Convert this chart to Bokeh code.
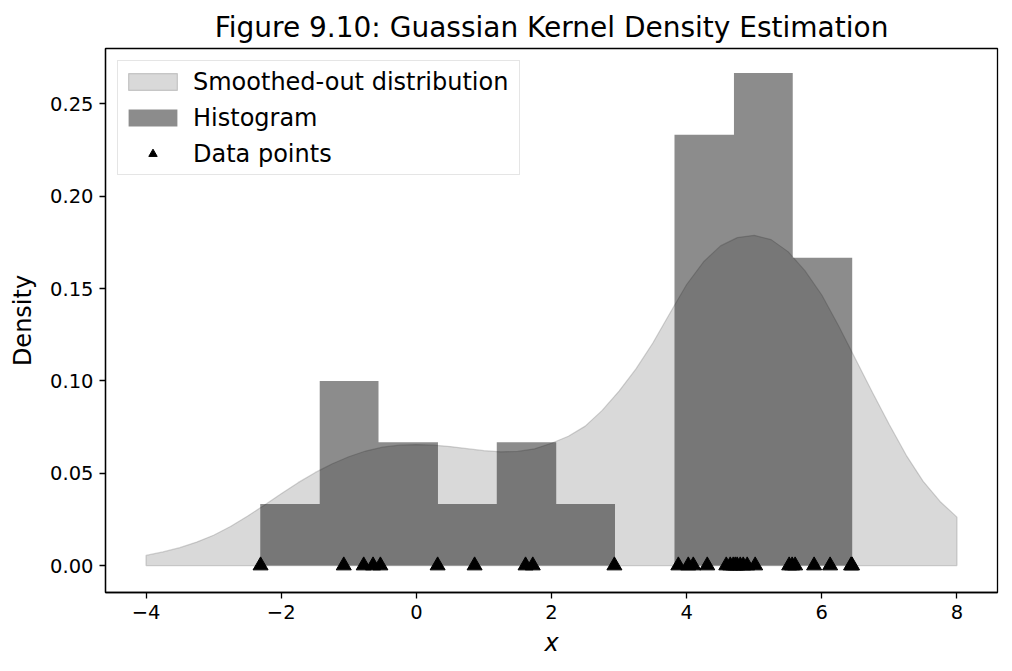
from bokeh.plotting import figure
from bokeh.models import Range1d, FixedTicker, PrintfTickFormatter, Legend, LegendItem
from bokeh.embed import file_html
from bokeh.resources import INLINE

# Data points
data_points = [-2.305, -1.074, -0.779, -0.641, -0.532, 0.315, 0.862, 1.616, 1.723, 2.931,
               3.877, 4.024, 4.098, 4.305, 4.586, 4.645, 4.689,
               4.719, 4.748, 4.793, 4.837, 4.896, 5.014, 5.517, 5.561,
               5.605, 5.886, 6.123, 6.433, 6.448]

# Histogram bin edges and heights
hist_edges = [-2.31, -1.43, -0.56, 0.32, 1.19, 2.07, 2.94, 3.82, 4.70, 5.57, 6.45]
hist_heights = [0.0333, 0.1, 0.0667, 0.0333, 0.0667, 0.0333, 0.0, 0.2333, 0.2667, 0.1667]

# Smoothed-out distribution (KDE)
kde_x = [-4.0, -3.75, -3.5, -3.25, -3.0, -2.75, -2.5, -2.25, -2.0, -1.75, -1.5, -1.25,
         -1.0, -0.75, -0.5, -0.25, 0.0, 0.25, 0.5, 0.75, 1.0, 1.25, 1.5, 1.75,
         2.0, 2.25, 2.5, 2.75, 3.0, 3.25, 3.5, 3.75, 4.0, 4.25, 4.5, 4.75,
         5.0, 5.25, 5.5, 5.75, 6.0, 6.25, 6.5, 6.75, 7.0, 7.25, 7.5, 7.75, 8.0]
kde_y = [0.0055, 0.0074, 0.0097, 0.0127, 0.0164, 0.0211, 0.0267, 0.0327, 0.0389, 0.0449, 0.0503, 0.0550,
         0.0589, 0.0620, 0.0641, 0.0652, 0.0655, 0.0652, 0.0644, 0.0633, 0.0622, 0.0616, 0.0618, 0.0632,
         0.0662, 0.0700, 0.0755, 0.0840, 0.0945, 0.1065, 0.1205, 0.1365, 0.1522, 0.1645, 0.1731, 0.1776,
         0.1788, 0.1765, 0.1700, 0.1597, 0.1465, 0.1297, 0.1117, 0.0937, 0.0762, 0.0597, 0.0456, 0.0347, 0.0262]

x_ticks = [-4, -2, 0, 2, 4, 6, 8]
y_ticks = [0.0, 0.05, 0.10, 0.15, 0.20, 0.25]

FONT = "DejaVu Sans"

p = figure(width=1008, height=663, output_backend="svg", toolbar_location=None,
           x_range=Range1d(-4.6, 8.6), y_range=Range1d(-0.0146, 0.28),
           min_border_left=105, min_border_right=11, min_border_top=48, min_border_bottom=71,
           title="Figure 9.10: Guassian Kernel Density Estimation")

p.title.text_font = FONT
p.title.text_font_size = "28px"
p.title.text_font_style = "normal"
p.title.align = "center"
p.title.text_color = "black"
p.title.standoff = 9

p.xgrid.visible = False
p.ygrid.visible = False
p.outline_line_color = "black"
p.outline_line_width = 1.3
p.outline_line_alpha = 1.0
p.background_fill_color = "white"
p.border_fill_color = "white"

for ax in (p.xaxis[0], p.yaxis[0]):
    ax.axis_line_color = "black"
    ax.axis_line_width = 1.3
    ax.major_tick_line_color = "black"
    ax.major_tick_line_width = 1.3
    ax.major_tick_out = 6
    ax.major_tick_in = 0
    ax.minor_tick_line_color = None
    ax.major_label_text_font = FONT
    ax.major_label_text_font_size = "19.5px"
    ax.major_label_text_color = "black"
    ax.axis_label_text_font = FONT
    ax.axis_label_text_font_size = "24px"
    ax.axis_label_text_color = "black"

p.xaxis.ticker = FixedTicker(ticks=x_ticks)
p.yaxis.ticker = FixedTicker(ticks=y_ticks)
p.yaxis.formatter = PrintfTickFormatter(format="%.2f")
p.xaxis.axis_label = "x"
p.xaxis.axis_label_text_font_style = "italic"
p.yaxis.axis_label = "Density"
p.yaxis.axis_label_text_font_style = "normal"
p.xaxis.major_label_standoff = 6
p.yaxis.major_label_standoff = 6
p.xaxis.axis_label_standoff = 7
p.yaxis.axis_label_standoff = 10

# KDE filled region (closed polygon down to zero)
poly_x = kde_x + [kde_x[-1], kde_x[0]]
poly_y = kde_y + [0.0, 0.0]
kde = p.patch(poly_x, poly_y, fill_color="gray", fill_alpha=0.3,
              line_color="gray", line_alpha=0.35, line_width=1.2)

# Histogram as one step-outline polygon (avoids seams between bars)
hx = [hist_edges[0]]
hy = [0.0]
for i, h in enumerate(hist_heights):
    hx += [hist_edges[i], hist_edges[i + 1]]
    hy += [h, h]
hx.append(hist_edges[-1])
hy.append(0.0)
hist = p.patch(hx, hy, fill_color="black", fill_alpha=0.45, line_color=None)

pts = p.scatter(data_points, [0.0] * len(data_points), marker="triangle", size=15,
                fill_color="black", line_color="black")

legend = Legend(items=[
    LegendItem(label="Smoothed-out distribution", renderers=[kde]),
    LegendItem(label="Histogram", renderers=[hist]),
    LegendItem(label="Data points", renderers=[pts]),
], location="top_left")
legend.label_text_font = FONT
legend.label_text_font_size = "24px"
legend.label_text_color = "black"
legend.glyph_width = 61
legend.glyph_height = 21
legend.label_height = 33
legend.label_width = 322
legend.label_standoff = 10
legend.spacing = 3
legend.padding = 4
legend.margin = 12
legend.border_line_color = "#cccccc"
legend.border_line_width = 1.3
legend.background_fill_alpha = 0.8
p.add_layout(legend)

open("out.html", "w").write(file_html(p, INLINE))
